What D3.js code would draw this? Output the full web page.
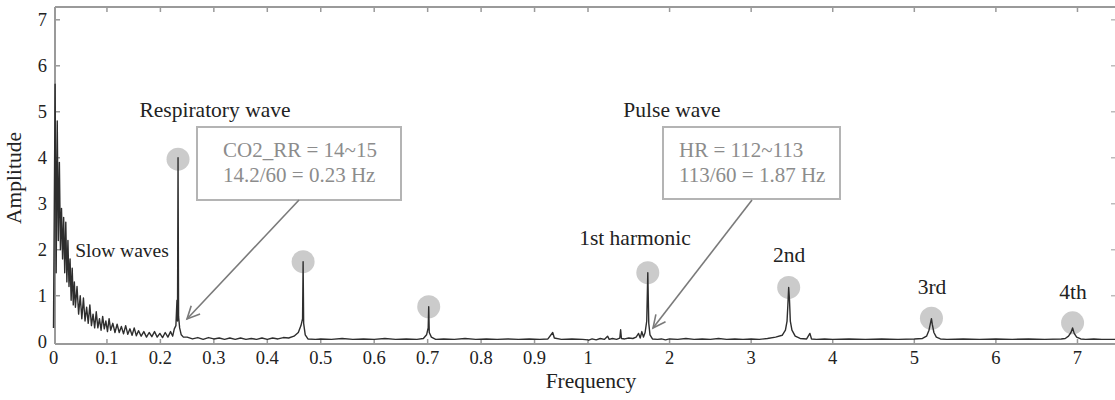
<!DOCTYPE html>
<html><head><meta charset="utf-8">
<script src="https://cdn.jsdelivr.net/npm/d3@7"></script>
<style>body{margin:0;background:#fff}svg{display:block}text{font-family:"Liberation Serif","DejaVu Serif",serif}</style>
</head><body><svg id="c" width="1115" height="400"></svg>
<script>
// ---- data ----
const freqLow = [0.000,0.003,0.005,0.007,0.009,0.011,0.013,0.015,0.017,0.019,0.021,0.023,0.025,0.027,0.029,0.031,0.033,0.035,0.037,0.039,0.041,0.044,0.047,0.050,0.053,0.056,0.059,0.062,0.065,0.068,0.071,0.074,0.077,0.080,0.083,0.086,0.089,0.092,0.095,0.098,0.101,0.104,0.107,0.111,0.115,0.119,0.123,0.127,0.131,0.135,0.139,0.143,0.147,0.151,0.155,0.159,0.164,0.169,0.174,0.179,0.184,0.189,0.194,0.199,0.204,0.209,0.214,0.219,0.223,0.226,0.229,0.231,0.232,0.233,0.234,0.236,0.239,0.243,0.250,0.260,0.270,0.280,0.290,0.300,0.310,0.320,0.330,0.340,0.350,0.360,0.370,0.380,0.390,0.400,0.410,0.420,0.430,0.440,0.450,0.458,0.463,0.466,0.467,0.468,0.471,0.476,0.490,0.500,0.520,0.540,0.560,0.580,0.600,0.620,0.640,0.660,0.680,0.692,0.698,0.701,0.702,0.703,0.707,0.715,0.730,0.750,0.770,0.790,0.810,0.830,0.850,0.870,0.890,0.910,0.925,0.934,0.937,0.950,0.970,0.990,1.000];
const ampLow  = [0.30,5.60,1.50,4.80,2.20,3.90,2.00,2.90,1.80,2.70,1.50,2.60,1.30,2.20,1.20,1.80,0.90,1.60,0.80,1.30,0.75,1.20,0.60,1.00,0.50,0.95,0.45,0.75,0.40,0.80,0.35,0.60,0.30,0.65,0.30,0.50,0.25,0.55,0.28,0.45,0.22,0.50,0.25,0.40,0.20,0.38,0.20,0.33,0.17,0.35,0.16,0.28,0.14,0.30,0.13,0.24,0.12,0.22,0.10,0.20,0.11,0.22,0.10,0.18,0.09,0.20,0.10,0.22,0.12,0.28,0.35,0.90,0.45,4.00,0.55,0.30,0.15,0.10,0.10,0.06,0.09,0.05,0.09,0.06,0.08,0.05,0.08,0.05,0.08,0.05,0.07,0.05,0.08,0.05,0.08,0.06,0.09,0.08,0.12,0.20,0.35,0.50,1.74,0.40,0.15,0.06,0.05,0.06,0.05,0.07,0.05,0.06,0.05,0.07,0.05,0.06,0.05,0.07,0.15,0.30,0.76,0.20,0.10,0.05,0.06,0.05,0.07,0.05,0.06,0.05,0.06,0.05,0.06,0.05,0.06,0.20,0.08,0.05,0.06,0.05,0.04];
const freqHigh = [1.00,1.05,1.10,1.15,1.20,1.24,1.26,1.30,1.35,1.39,1.40,1.41,1.45,1.50,1.55,1.59,1.62,1.64,1.66,1.68,1.70,1.72,1.733,1.745,1.76,1.79,1.85,1.90,1.95,2.00,2.10,2.20,2.30,2.40,2.50,2.60,2.70,2.80,2.90,3.00,3.10,3.20,3.30,3.38,3.42,3.44,3.45,3.46,3.47,3.48,3.50,3.54,3.60,3.68,3.72,3.74,3.80,3.90,4.00,4.20,4.40,4.60,4.80,5.00,5.10,5.15,5.18,5.20,5.21,5.22,5.24,5.27,5.32,5.40,5.60,5.80,6.00,6.20,6.40,6.60,6.80,6.85,6.89,6.92,6.94,6.96,6.99,7.04,7.10,7.20,7.30,7.46];
const ampHigh  = [0.03,0.06,0.04,0.07,0.05,0.12,0.05,0.07,0.05,0.08,0.26,0.07,0.06,0.08,0.07,0.10,0.18,0.08,0.22,0.10,0.20,0.45,1.50,0.40,0.15,0.06,0.05,0.06,0.04,0.06,0.05,0.07,0.05,0.06,0.05,0.07,0.05,0.06,0.05,0.06,0.05,0.07,0.10,0.14,0.25,0.45,0.80,1.18,0.90,0.45,0.25,0.12,0.07,0.06,0.18,0.06,0.05,0.06,0.05,0.06,0.05,0.06,0.05,0.06,0.07,0.12,0.25,0.42,0.50,0.38,0.20,0.10,0.06,0.05,0.06,0.05,0.06,0.05,0.06,0.05,0.06,0.07,0.12,0.20,0.30,0.18,0.10,0.06,0.05,0.06,0.05,0.05];
const peakFreqs = [0.233,0.467,0.702,1.733,3.46,5.21,6.94];
const peakAmps  = [3.97,1.74,0.76,1.50,1.18,0.51,0.41];
const yTicks = [0,1,2,3,4,5,6,7];
const xTicks = [0,0.1,0.2,0.3,0.4,0.5,0.6,0.7,0.8,0.9,1,2,3,4,5,6,7];
const xTickLabels = ["0","0.1","0.2","0.3","0.4","0.5","0.6","0.7","0.8","0.9","1","2","3","4","5","6","7"];

// ---- drawing ----
const svg = d3.select("#c");
const x = d3.scaleLinear().domain([0,1,7.46]).range([53.5,588,1115]);
const y = d3.scaleLinear().domain([-0.05,7.3]).range([344,6]);
const frame = "#9a9a9a";
const pL = 55, pT = 7, pB = 344, pR = 1115;

// frame
svg.append("line").attr("x1",pL).attr("x2",pR).attr("y1",pT).attr("y2",pT).attr("stroke",frame).attr("stroke-width",2);
svg.append("line").attr("x1",pL).attr("x2",pR).attr("y1",pB).attr("y2",pB).attr("stroke",frame).attr("stroke-width",2);
svg.append("line").attr("x1",pL).attr("x2",pL).attr("y1",pT).attr("y2",pB).attr("stroke",frame).attr("stroke-width",2);

// ticks
const gx = svg.append("g");
xTicks.forEach((t,i)=>{
  if(t===0) return;
  gx.append("line").attr("x1",x(t)).attr("x2",x(t)).attr("y1",pB).attr("y2",pB-5).attr("stroke",frame).attr("stroke-width",1.5);
  gx.append("line").attr("x1",x(t)).attr("x2",x(t)).attr("y1",pT).attr("y2",pT+5).attr("stroke",frame).attr("stroke-width",1.5);
});
xTicks.forEach((t,i)=>{
  gx.append("text").attr("x",x(t)).attr("y",364).attr("text-anchor","middle").attr("font-size",18.5).attr("fill","#222").text(xTickLabels[i]);
});
yTicks.forEach(t=>{
  if(t>0){
    svg.append("line").attr("x1",pL).attr("x2",pL+5).attr("y1",y(t)).attr("y2",y(t)).attr("stroke",frame).attr("stroke-width",1.5);
    svg.append("line").attr("x1",pR-4).attr("x2",pR).attr("y1",y(t)).attr("y2",y(t)).attr("stroke","#bbb").attr("stroke-width",1.5);
  }
  svg.append("text").attr("x",47).attr("y",y(t)+6).attr("text-anchor","end").attr("font-size",18.5).attr("fill","#222").text(t);
});

// axis labels
svg.append("text").attr("x",591).attr("y",388).attr("text-anchor","middle").attr("font-size",21.5).attr("fill","#222").text("Frequency");
svg.append("text").attr("transform","translate(21,178) rotate(-90)").attr("text-anchor","middle").attr("font-size",21.5).attr("fill","#222").text("Amplitude");

// peak circles
svg.selectAll("circle.pk").data(peakFreqs).enter().append("circle")
  .attr("cx",d=>x(d)).attr("cy",(d,i)=>y(peakAmps[i])).attr("r",11.5).attr("fill","#cbcbcb");

// spectrum
const line = d3.line().x(d=>x(d[0])).y(d=>y(d[1]));
svg.append("path").datum(freqLow.map((f,i)=>[f,ampLow[i]])).attr("d",line)
  .attr("fill","none").attr("stroke","#2e2e2e").attr("stroke-width",1.4).attr("stroke-linejoin","round");
svg.append("path").datum(freqHigh.map((f,i)=>[f,ampHigh[i]])).attr("d",line)
  .attr("fill","none").attr("stroke","#2e2e2e").attr("stroke-width",1.4).attr("stroke-linejoin","round");

// labels
const lab = (t,cx,by,fs)=>svg.append("text").attr("x",cx).attr("y",by).attr("text-anchor","middle").attr("font-size",fs).attr("fill","#222").text(t);
lab("Respiratory wave",215,117,21.5);
lab("Slow waves",122,257,19.5);
lab("Pulse wave",672,117,21.5);
lab("1st harmonic",635,245,21.5);
lab("2nd",789,262,21.5);
lab("3rd",932,294,21.5);
lab("4th",1073,299,21.5);

// boxes
const gray = "#8c8c8c";
function box(x0,y0,x1,y1,tx,lines){
  svg.append("rect").attr("x",x0).attr("y",y0).attr("width",x1-x0).attr("height",y1-y0)
    .attr("fill","#fff").attr("stroke","#b4b4b4").attr("stroke-width",2);
  lines.forEach((l,i)=>svg.append("text").attr("x",tx).attr("y",157+i*25).attr("font-size",21).attr("fill",gray).text(l));
}
box(197,127,401,200,223,["CO2_RR = 14~15","14.2/60 = 0.23 Hz"]);
box(663,127,840,199,679,["HR = 112~113","113/60 = 1.87 Hz"]);

// arrows
function arrow(x1,y1,x2,y2){
  svg.append("line").attr("x1",x1).attr("y1",y1).attr("x2",x2).attr("y2",y2).attr("stroke","#7a7a7a").attr("stroke-width",1.6);
  const a = Math.atan2(y1-y2,x1-x2), L=14, s=0.45;
  const p = [[x2+L*Math.cos(a+s),y2+L*Math.sin(a+s)],[x2,y2],[x2+L*Math.cos(a-s),y2+L*Math.sin(a-s)]];
  svg.append("path").attr("d",d3.line()(p)).attr("fill","none").attr("stroke","#7a7a7a").attr("stroke-width",1.6);
}
arrow(299,200,187,319);
arrow(752,200,653,328);
</script></body></html>
